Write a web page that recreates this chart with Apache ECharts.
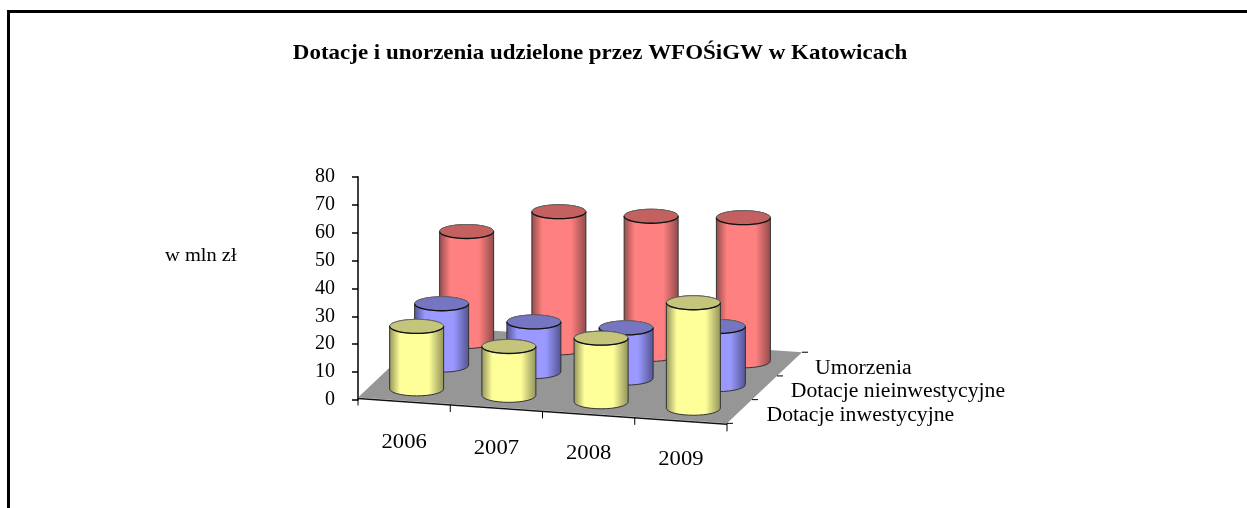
<!DOCTYPE html>
<html>
<head>
<meta charset="utf-8">
<style>html,body{margin:0;padding:0;background:#fff}#chart{width:1247px;height:508px}</style>
<script src="https://cdn.jsdelivr.net/npm/echarts@6/dist/echarts.min.js"></script>
</head>
<body>
<div id="chart"></div>
<script>
const categories = ['2006', '2007', '2008', '2009'];
const seriesNames = ['Dotacje inwestycyjne', 'Dotacje nieinwestycyjne', 'Umorzenia'];
const inwestycyjne = [22.4, 17.5, 22.8, 37.8];
const nieinwestycyjne = [22, 17.8, 18, 20.8];
const umorzenia = [39.4, 48.8, 49.5, 51.3];

const FONT = '"Liberation Serif", serif';
// fake 3d: floor is sheared sideways, each row moves back by depthX / depthY
const slope = 0.07;
const depthX = 25;
const depthY = 23.7;
const floorLift = 2.5;

function floorPoint(cs, u, d) {
    const bw = cs.width / categories.length;
    return [
        cs.x + u * bw + d * depthX,
        cs.y + cs.height - floorLift + u * bw * slope - d * depthY
    ];
}

function cylinder(row, side, cap) {
    return function (params, api) {
        const cs = params.coordSys;
        const i = api.value(0);
        const base = api.coord([i, 0]);
        const top = api.coord([i, api.value(1)]);
        const bw = cs.width / categories.length;
        const p = floorPoint(cs, (base[0] - cs.x) / bw, row + 0.5);
        const h = base[1] - top[1];
        const rx = 27, ry = 7;
        const x0 = p[0] - rx, x1 = p[0] + rx, yb = p[1], yt = p[1] - h;
        const body = 'M' + x0 + ' ' + yt + 'L' + x0 + ' ' + yb +
            'A' + rx + ' ' + ry + ' 0 0 0 ' + x1 + ' ' + yb +
            'L' + x1 + ' ' + yt +
            'A' + rx + ' ' + ry + ' 0 0 0 ' + x0 + ' ' + yt + 'Z';
        const lip = 'M' + x0 + ' ' + yt + 'A' + rx + ' ' + ry + ' 0 0 0 ' + x1 + ' ' + yt;
        return {
            type: 'group',
            children: [{
                type: 'path',
                shape: { pathData: body },
                style: {
                    fill: new echarts.graphic.LinearGradient(0, 0, 1, 0, [
                        { offset: 0, color: side[0] },
                        { offset: 0.2, color: side[1] },
                        { offset: 0.72, color: side[1] },
                        { offset: 1, color: side[0] }
                    ]),
                    stroke: '#333',
                    lineWidth: 1
                }
            }, {
                type: 'ellipse',
                shape: { cx: p[0], cy: yt, rx: rx, ry: ry },
                style: { fill: cap, stroke: '#666', lineWidth: 1 }
            }, {
                type: 'path',
                shape: { pathData: lip },
                style: { fill: 'none', stroke: '#111', lineWidth: 1.3 }
            }]
        };
    };
}

function floorItem(params) {
    const cs = params.coordSys;
    const a = floorPoint(cs, 0, 0), b = floorPoint(cs, 4, 0), c = floorPoint(cs, 4, 3), d = floorPoint(cs, 0, 3);
    return {
        type: 'group',
        children: [{
            type: 'polygon',
            shape: { points: [a, b, c, d] },
            style: { fill: '#969696' }
        }, {
            type: 'line',
            shape: { x1: a[0], y1: a[1] + 1, x2: b[0], y2: b[1] + 1 },
            style: { stroke: '#111', lineWidth: 1.5 }
        }]
    };
}

function categoryLabel(params, api) {
    const cs = params.coordSys;
    const i = api.value(0);
    const t = floorPoint(cs, i, 0);
    const center = api.coord([i, 0]);
    const children = [{
        type: 'line',
        shape: { x1: t[0], y1: t[1] + 1, x2: t[0], y2: t[1] + 8 },
        style: { stroke: '#000', lineWidth: 1 }
    }, {
        type: 'text',
        x: center[0],
        y: cs.y + cs.height + 43 + i * 5.6,
        scaleX: 1.13,
        style: {
            text: categories[i],
            font: '20px ' + FONT,
            fill: '#000',
            align: 'center',
            verticalAlign: 'middle'
        }
    }];
    if (i === categories.length - 1) {
        const e = floorPoint(cs, 4, 0);
        children.push({
            type: 'line',
            shape: { x1: e[0], y1: e[1], x2: e[0], y2: e[1] + 8 },
            style: { stroke: '#000', lineWidth: 1 }
        });
    }
    return { type: 'group', children: children };
}

function rowLabel(params, api) {
    const cs = params.coordSys;
    const row = api.value(0);
    const t = floorPoint(cs, 4, row);
    const next = floorPoint(cs, 4, row + 1);
    const children = [{
        type: 'line',
        shape: { x1: t[0], y1: t[1], x2: t[0] + 6, y2: t[1] },
        style: { stroke: '#000', lineWidth: 1 }
    }, {
        type: 'text',
        x: t[0] + 39.5 - row * 0.7,
        y: t[1] - 7.5,
        scaleX: 1.087,
        style: {
            text: seriesNames[row],
            font: '20px ' + FONT,
            fill: '#000',
            align: 'left',
            verticalAlign: 'middle'
        }
    }];
    if (row === seriesNames.length - 1) {
        children.push({
            type: 'line',
            shape: { x1: next[0], y1: next[1], x2: next[0] + 6, y2: next[1] },
            style: { stroke: '#000', lineWidth: 1 }
        });
    }
    return { type: 'group', children: children };
}

const chart = echarts.init(document.getElementById('chart'));

const option = {
    animation: false,
    backgroundColor: '#fff',
    grid: { left: 358, top: 176.7, width: 369, height: 223.3 },
    xAxis: { type: 'category', data: categories, show: false },
    yAxis: {
        type: 'value',
        min: 0,
        max: 80,
        interval: 10,
        splitLine: { show: false },
        axisLine: { show: true, lineStyle: { color: '#000', width: 1.5 } },
        axisTick: { show: true, length: 6, lineStyle: { color: '#000', width: 1.5 } },
        axisLabel: { margin: 23, padding: [3, 0, 0, 0], fontFamily: FONT, fontSize: 20, color: '#000' }
    },
    graphic: [{
        type: 'rect',
        shape: { x: 8.5, y: 11.5, width: 1400, height: 700 },
        style: { fill: 'none', stroke: '#000', lineWidth: 3 }
    }, {
        type: 'text',
        x: 600,
        y: 53,
        scaleX: 1.044,
        style: {
            text: 'Dotacje i unorzenia udzielone przez WFOŚiGW w Katowicach',
            font: 'bold 22px ' + FONT,
            fill: '#000',
            align: 'center',
            verticalAlign: 'middle'
        }
    }, {
        type: 'text',
        x: 165,
        y: 256,
        scaleX: 1.136,
        style: {
            text: 'w mln zł',
            font: '18px ' + FONT,
            fill: '#000',
            align: 'left',
            verticalAlign: 'middle'
        }
    }],
    series: [
        { type: 'custom', z: 1, renderItem: floorItem, data: [[0, 0]], encode: { x: 0, y: 1 } },
        {
            type: 'custom', z: 2, name: seriesNames[2],
            renderItem: cylinder(2, ['#8f4a4a', '#ff8080'], '#c46060'),
            data: umorzenia.map(function (v, i) { return [i, v]; }),
            encode: { x: 0, y: 1 }
        },
        {
            type: 'custom', z: 3, name: seriesNames[1],
            renderItem: cylinder(1, ['#52528f', '#9999ff'], '#7575c2'),
            data: nieinwestycyjne.map(function (v, i) { return [i, v]; }),
            encode: { x: 0, y: 1 }
        },
        {
            type: 'custom', z: 4, name: seriesNames[0],
            renderItem: cylinder(0, ['#90905a', '#ffff99'], '#c4c47a'),
            data: inwestycyjne.map(function (v, i) { return [i, v]; }),
            encode: { x: 0, y: 1 }
        },
        {
            type: 'custom', z: 5, renderItem: categoryLabel,
            data: categories.map(function (c, i) { return [i, 0]; }),
            encode: { x: 0, y: 1 }
        },
        {
            type: 'custom', z: 5, renderItem: rowLabel,
            data: seriesNames.map(function (c, i) { return [i, 0]; }),
            encode: { x: 0, y: 1 }
        }
    ]
};

chart.setOption(option);
</script>
</body>
</html>
